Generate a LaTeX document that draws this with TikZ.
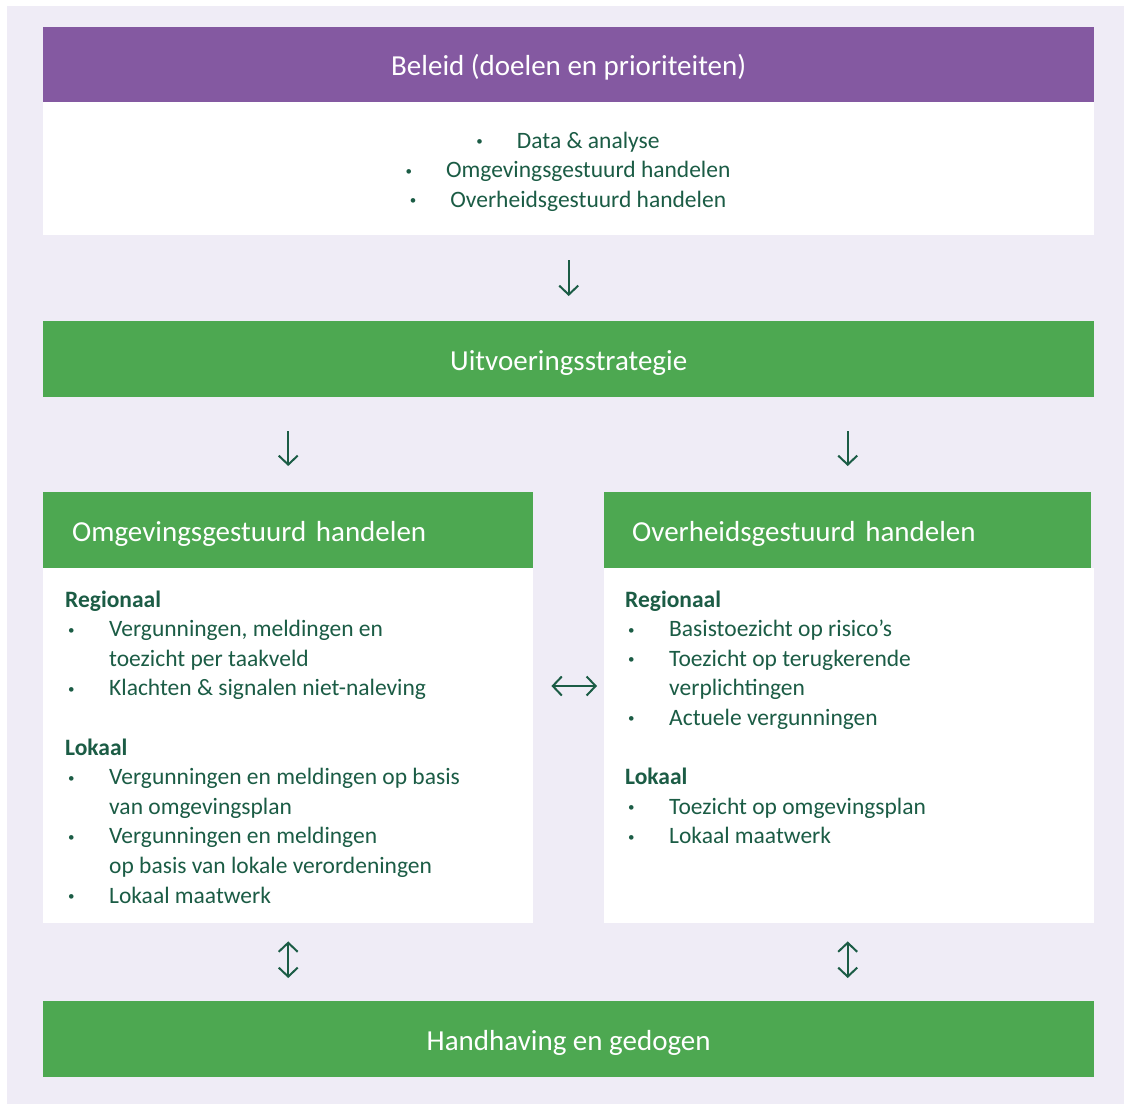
\documentclass[tikz,border=0pt]{standalone}
\usepackage{fontspec}
\setmainfont{Carlito}
\usetikzlibrary{arrows.meta}
\definecolor{purp}{HTML}{8459A1}
\definecolor{grn}{HTML}{4DA851}
\definecolor{bgc}{HTML}{EFECF6}
\definecolor{txt}{HTML}{1B5C45}
\newcommand{\bul}{\raisebox{2.5pt}{\fontsize{13}{13}\selectfont •}}
\newcommand{\bodyfont}{\fontsize{23.5}{29.6}\selectfont}
\newcommand{\headfont}{\fontsize{29}{32}\selectfont}
\tikzset{
  bar/.style={fill=grn, draw=none, minimum height=76, inner sep=0, text=white, font=\headfont, text height=25pt, text depth=2.5pt, anchor=north west},
  panel/.style={fill=white, draw=none, inner sep=0, anchor=north west},
  body/.style={inner sep=0, text=txt, font=\bodyfont, anchor=base west},
  arr/.style={draw=txt, line width=2pt, -{Straight Barb[length=9pt,width=19pt,line width=2pt]}},
  darr/.style={draw=txt, line width=2pt, {Straight Barb[length=9pt,width=19pt,line width=2pt]}-{Straight Barb[length=9pt,width=19pt,line width=2pt]}}
}
\begin{document}
\begin{tikzpicture}[x=1pt,y=-1pt]
\useasboundingbox (0,0) rectangle (1124,1104);
\fill[bgc] (7,6) rectangle (1124,1104);
% top
\node[bar, fill=purp, minimum width=1051, minimum height=75] (beleid) at (43,27) {Beleid (doelen en prioriteiten)};
\node[panel, minimum width=1051, minimum height=133] (beleidbody) at (43,102) {};
\node[body, anchor=base] (beleidlist) at (568,148) {\begin{tabular}[t]{@{}c@{}}\bul\hspace{34pt}Data \& analyse\\ \bul\hspace{34pt}Omgevingsgestuurd handelen\\ \bul\hspace{34pt}Overheidsgestuurd handelen\end{tabular}};
% strategy
\node[bar, minimum width=1051] (uitv) at (43,321) {Uitvoeringsstrategie};
% columns
\node[bar, minimum width=490, text width=432, align=left, inner xsep=29] (omg) at (43,492) {Omgevingsgestuurd handelen};
\node[panel, minimum width=490, minimum height=355] (omgbody) at (43,568) {};
\node[bar, minimum width=487, text width=431, align=left, inner xsep=28] (ovh) at (604,492) {Overheidsgestuurd handelen};
\node[panel, minimum width=490, minimum height=355] (ovhbody) at (604,568) {};
\node[body] (omglist) at (65,607) {\begin{tabular}[t]{@{}p{44pt}@{}l@{}}
\multicolumn{2}{@{}l@{}}{\bfseries Regionaal}\\
\hspace{3pt}\bul & Vergunningen, meldingen en\\
 & toezicht per taakveld\\
\hspace{3pt}\bul & Klachten \& signalen niet-naleving\\
 & \\
\multicolumn{2}{@{}l@{}}{\bfseries Lokaal}\\
\hspace{3pt}\bul & Vergunningen en meldingen op basis\\
 & van omgevingsplan\\
\hspace{3pt}\bul & Vergunningen en meldingen\\
 & op basis van lokale verordeningen\\
\hspace{3pt}\bul & Lokaal maatwerk
\end{tabular}};
\node[body] (ovhlist) at (625,607) {\begin{tabular}[t]{@{}p{44pt}@{}l@{}}
\multicolumn{2}{@{}l@{}}{\bfseries Regionaal}\\
\hspace{3pt}\bul & Basistoezicht op risico’s\\
\hspace{3pt}\bul & Toezicht op terugkerende\\
 & verplichtingen\\
\hspace{3pt}\bul & Actuele vergunningen\\
 & \\
\multicolumn{2}{@{}l@{}}{\bfseries Lokaal}\\
\hspace{3pt}\bul & Toezicht op omgevingsplan\\
\hspace{3pt}\bul & Lokaal maatwerk
\end{tabular}};
% bottom
\node[bar, minimum width=1051] (handh) at (43,1001) {Handhaving en gedogen};
% arrows
\draw[arr, shorten <=25pt, shorten >=25pt] (beleidbody.south) -- (uitv.north);
\draw[arr, shorten <=34pt, shorten >=26pt] (uitv.south -| omg.north) -- (omg.north);
\draw[arr, shorten <=34pt, shorten >=26pt] (uitv.south -| ovh.north) -- (ovh.north);
\draw[darr, shorten <=18pt, shorten >=7pt] (omgbody.east |- 0,686) -- (ovhbody.west |- 0,686);
\draw[darr, shorten <=18pt, shorten >=23pt] (omgbody.south) -- (handh.north -| omgbody.south);
\draw[darr, shorten <=18pt, shorten >=23pt] (ovhbody.south -| ovh.south) -- (handh.north -| ovh.south);
\end{tikzpicture}
\end{document}
